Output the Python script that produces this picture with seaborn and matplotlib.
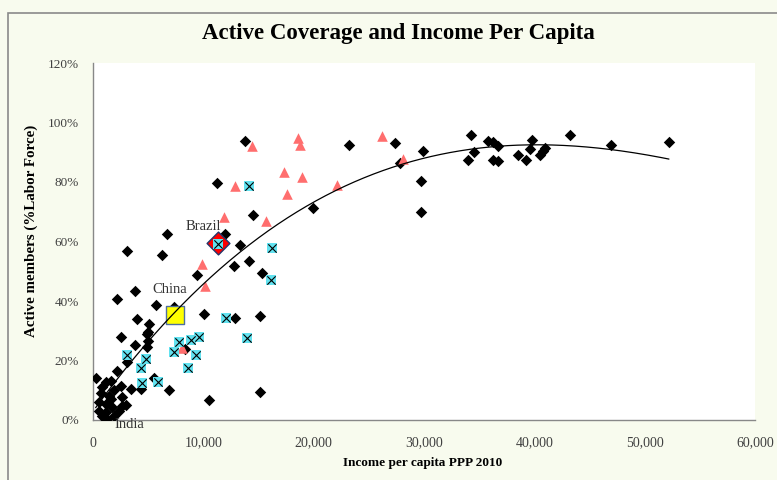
import numpy as np
import pandas as pd
import matplotlib
matplotlib.use("Agg")
import matplotlib.pyplot as plt
import seaborn as sns
from matplotlib.patches import Rectangle
from matplotlib.ticker import FuncFormatter, MultipleLocator

# ---- data (income per capita PPP 2010, active members % of labor force) ----
black_x = [34300, 27400, 29900, 27780, 29750, 29750, 34520, 33980, 35790, 36250,
           36700, 36250, 36700, 38510, 39270, 39640, 39820, 40480, 40780, 41000,
           43270, 46930, 52220,
           13800, 23240, 11230, 14460, 19970, 6690, 12000, 3060, 6290, 9470,
           3810, 2150, 5690, 7350, 7200, 10080, 3970, 5080, 5020, 2510,
           13340, 12740, 14160, 15310, 12860, 15160, 15160, 10530, 8300,
           3810, 4930, 5020, 4930, 3110, 2210, 240, 1150, 1600, 850, 2510,
           3420, 4330, 5540, 6900, 2660, 1450, 2660, 540, 540, 1150, 1750,
           850, 1900, 2360, 1300, 700, 1900, 1200, 3000, 1600]
black_y = [95.8, 93.0, 90.3, 86.3, 80.4, 69.8, 90.0, 87.5, 93.7, 93.3,
           92.0, 87.5, 87.0, 89.2, 87.5, 91.0, 94.2, 89.2, 90.5, 91.3,
           95.8, 92.5, 93.5,
           93.8, 92.5, 79.7, 68.9, 71.4, 62.5, 62.5, 56.7, 55.5, 48.8,
           43.5, 40.7, 38.7, 37.9, 36.7, 35.6, 34.0, 32.3, 29.5, 27.8,
           58.9, 51.9, 53.5, 49.3, 34.3, 34.9, 9.3, 6.7, 24.0,
           25.3, 28.9, 26.7, 24.5, 19.4, 16.6, 14.0, 12.7, 13.2, 11.0, 11.5,
           10.4, 10.4, 14.0, 10.1, 7.6, 8.2, 4.8, 6.0, 3.1, 2.6, 4.3,
           1.5, 1.5, 3.1, 0.5, 9.0, 10.0, 5.5, 5.0, 7.0]

cyan_x = [14100, 11350, 16220, 16130, 12040, 14000, 9620, 7810, 8870, 7350,
          9320, 8650, 3060, 4840, 4330, 4480, 5930]
cyan_y = [78.5, 59.2, 57.7, 47.2, 34.2, 27.6, 27.8, 26.3, 27.0, 23.0,
          21.8, 17.4, 21.8, 20.5, 17.5, 12.4, 12.7]

salmon_x = [14400, 12890, 17270, 17550, 11830, 15680, 18550, 18760, 26170,
            18910, 22090, 28140, 9920, 10170, 8050]
salmon_y = [92.0, 78.8, 83.3, 76.0, 68.1, 67.0, 94.7, 92.4, 95.6,
            81.6, 79.1, 87.7, 52.4, 45.2, 24.1]

brazil_x, brazil_y = [11350], [59.5]
china_x, china_y = [7470], [35.2]

# cubic trend (x in thousands of $ -> %)
trend_coef = [4.15e-4, -0.0887, 5.1235, 2.925]
trend_end = 52200

labels = ["Brazil", "China", "India"]
label_x = [9980, 6990, 3270]
label_y = [64.9, 44.0, -1.4]

x_ticks = [0, 10000, 20000, 30000, 40000, 50000, 60000]
y_ticks = [0, 20, 40, 60, 80, 100, 120]

# ---- styling ----
sns.set_theme(style="white")
plt.rcParams['font.family'] = ['Liberation Serif', 'DejaVu Serif']

BG = '#F8FBEE'
fig = plt.figure(figsize=(7.77, 4.8), dpi=100, facecolor=BG)
ax = fig.add_axes([93/777, 60/480, 662/777, 357/480])
ax.set_facecolor('white')

fig.patches.append(Rectangle((8/777, -0.1), 1.2, (480-13)/480 + 0.1,
                             transform=fig.transFigure, fill=False,
                             edgecolor='#8a8a8a', lw=1.2, zorder=0))

sns.scatterplot(x=black_x, y=black_y, marker='D', s=34, color='black',
                linewidth=0, ax=ax, zorder=3)
sns.scatterplot(x=salmon_x, y=salmon_y, marker='^', s=58, color='#FF6E6E',
                linewidth=0, ax=ax, zorder=4)
sns.scatterplot(x=brazil_x, y=brazil_y, marker='D', s=135, color='#FF0000',
                edgecolor='#27356B', linewidth=1.0, ax=ax, zorder=5)
sns.scatterplot(x=china_x, y=china_y, marker='s', s=175, color='#FFFF00',
                edgecolor='#4F6FA0', linewidth=1.0, ax=ax, zorder=5)
sns.scatterplot(x=cyan_x, y=cyan_y, marker='s', s=42, color='#62E2F0',
                linewidth=0, ax=ax, zorder=6)
sns.scatterplot(x=cyan_x, y=cyan_y, marker='x', s=36, color='black',
                linewidth=0.8, ax=ax, zorder=7)

xs = np.linspace(min(black_x), trend_end, 300)
ys = np.polyval(trend_coef, xs / 1000.0)
sns.lineplot(x=xs, y=ys, color='black', lw=0.9, ax=ax, zorder=8)

for t, lx, ly in zip(labels, label_x, label_y):
    ax.text(lx, ly, t, ha='center', va='center', fontsize=10.5,
            color='#333333', clip_on=False, zorder=9)

ax.set_xlim(0, 60000)
ax.set_ylim(0, 120)
ax.set_xticks(x_ticks)
ax.set_yticks(y_ticks)
ax.xaxis.set_major_formatter(FuncFormatter(lambda v, p: f"{int(v):,}"))
ax.yaxis.set_major_formatter(FuncFormatter(lambda v, p: f"{int(v)}%"))
ax.tick_params(axis='both', length=0, labelsize=10, labelcolor='#404040')
ax.tick_params(axis='y', labelsize=9.5, pad=10)
ax.tick_params(axis='x', pad=12)
for s in ['top', 'right']:
    ax.spines[s].set_visible(False)
for s in ['left', 'bottom']:
    ax.spines[s].set_color('#888888')
    ax.spines[s].set_linewidth(1.0)
ax.set_xlabel('')
ax.set_ylabel('')

fig.text(398/777, 1 - 33/480, 'Active Coverage and Income Per Capita',
         ha='center', va='center', fontsize=16.5, fontweight='bold', color='black')
fig.text(423/777, 1 - 463/480, 'Income per capita PPP 2010',
         ha='center', va='center', fontsize=9.5, fontweight='bold', color='black')
fig.text(31/777, 1 - 231/480, 'Active members (%Labor Force)',
         ha='center', va='center', fontsize=10.8, fontweight='bold',
         rotation=90, color='black')

fig.savefig('out.png', dpi=100, facecolor=BG)
